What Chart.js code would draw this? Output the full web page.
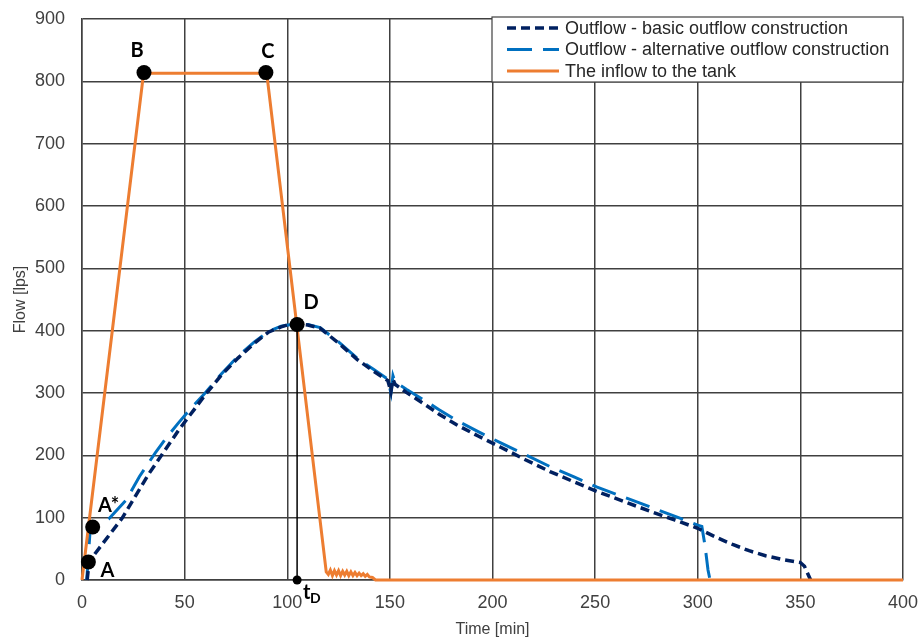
<!DOCTYPE html>
<html>
<head>
<meta charset="utf-8">
<script src="https://cdn.jsdelivr.net/npm/chart.js@4/dist/chart.umd.min.js"></script>
<style>
html, body { margin: 0; padding: 0; background: #fff; }
</style>
</head>
<body>
<canvas id="Grafica" width="920" height="639"></canvas>
<script>
// time [min] / flow [lps]
const basicTime = [2.5, 3.5, 10, 19.5, 32.5, 47, 55, 60, 68, 76, 84, 91, 97, 100, 105, 110, 116, 125, 134, 142, 149, 150.5, 151.5, 152.5, 158, 166, 174, 182.5, 193, 204, 216, 228, 240, 251, 264, 277, 289, 300, 303, 310, 317, 325, 333, 341, 350, 352, 355];
const basicFlow = [0, 30, 58, 99, 170, 240, 275, 297, 329, 356, 380, 398, 406, 409, 411, 409, 404, 380, 354, 335, 320, 302, 322, 314, 301, 284, 266, 249, 231, 213, 193, 174, 157, 142, 126, 110, 96, 83, 78, 67, 57, 47, 39, 33, 28, 22, 0];

const altTime = [2.3, 4, 8, 13, 21.7, 28, 35.7, 41, 47, 53, 60, 68, 76, 84, 91, 97, 104, 110, 116, 125, 134, 142, 149, 150.5, 151.5, 152.5, 158, 166, 174, 182.5, 193, 204, 216, 228, 240, 251, 264, 277, 289, 300, 302, 303.5, 305, 306];
const altFlow = [0, 82, 90, 98, 129, 166, 204, 228, 252, 275, 300, 331, 359, 382, 399, 407, 411, 410, 405, 382, 356, 338, 322, 300, 328, 318, 306, 290, 273, 256, 238, 220, 201, 182, 165, 149, 133, 117, 102, 88, 86, 56, 16, 0];

const inflowTime = [0, 30, 90, 119, 120, 121, 122, 123, 124, 125, 126, 127, 128, 129, 130, 131, 132, 133, 134, 135, 136, 137, 138, 139, 140, 141.5, 143, 400];
const inflowFlow = [0, 813, 813, 13, 9, 16, 7, 15, 8, 15, 7, 14, 8, 14, 7, 13, 7, 12, 7, 11, 7, 10, 6, 9, 5, 4, 0, 0];

const markerNames = ['A', 'A*', 'B', 'C', 'D'];
const markerTime = [3.1, 5.2, 30.2, 89.6, 104.8];
const markerFlow = [29, 85, 814, 814, 410];
const tD = 104.8;

const xTicks = [0, 50, 100, 150, 200, 250, 300, 350, 400];
const yTicks = [0, 100, 200, 300, 400, 500, 600, 700, 800, 900];

function pts(t, q) { return t.map((v, i) => ({x: v, y: q[i]})); }

const labelOffsets = [[19, 9], [16, -21], [-7, -22], [2, -21], [14, -22]];

const extras = {
    id: 'extras',
    afterDraw(chart) {
        const ctx = chart.ctx, sx = chart.scales.x, sy = chart.scales.y, ca = chart.chartArea;
        ctx.save();
        // point labels
        ctx.fillStyle = '#000';
        ctx.font = 'bold 20px Lato, "Liberation Sans"';
        ctx.textAlign = 'center';
        ctx.textBaseline = 'middle';
        markerNames.forEach((n, i) => {
            ctx.fillText(n, sx.getPixelForValue(markerTime[i]) + labelOffsets[i][0], sy.getPixelForValue(markerFlow[i]) + labelOffsets[i][1]);
        });
        const px = sx.getPixelForValue(tD), py = sy.getPixelForValue(0);
        ctx.textAlign = 'left';
        ctx.fillText('t', px + 6, py + 13);
        ctx.font = 'bold 14px Lato, "Liberation Sans"';
        ctx.fillText('D', px + 13, py + 18);

        // legend box
        const lx = ca.right - 411, ly = ca.top - 2, lw = 411, lh = 65;
        ctx.fillStyle = '#fff';
        ctx.fillRect(lx, ly, lw, lh);
        ctx.strokeStyle = '#404040';
        ctx.lineWidth = 1.2;
        ctx.strokeRect(lx, ly, lw, lh);
        ctx.font = '18px "Liberation Sans"';
        ctx.textBaseline = 'middle';
        const items = chart.data.datasets.filter(d => d.inLegend);
        items.sort((a, b) => a.legendPos - b.legendPos);
        items.forEach((d, i) => {
            const yy = ly + 11 + i * 21.5;
            ctx.beginPath();
            ctx.strokeStyle = d.borderColor;
            ctx.lineWidth = d.borderWidth;
            ctx.setLineDash(d.borderDash || []);
            ctx.moveTo(lx + 15, yy);
            ctx.lineTo(lx + 67, yy);
            ctx.stroke();
            ctx.setLineDash([]);
            ctx.fillStyle = '#262626';
            ctx.fillText(d.label, lx + 73, yy + 1);
        });
        ctx.restore();
    }
};

const lineOpts = {showLine: true, pointRadius: 0, fill: false, tension: 0, clip: 6};

new Chart(document.getElementById('Grafica').getContext('2d'), {
    type: 'scatter',
    data: {
        datasets: [
            {label: 'markers', data: pts(markerTime, markerFlow), pointRadius: 7.5, pointBackgroundColor: '#000', pointBorderWidth: 0, showLine: false, clip: false},
            {label: 'tD', data: [{x: tD, y: 0}], pointRadius: 4.5, pointBackgroundColor: '#000', pointBorderWidth: 0, showLine: false, clip: false},
            {...lineOpts, label: 'tDline', data: [{x: tD, y: markerFlow[4]}, {x: tD, y: 0}], borderColor: '#000', borderWidth: 1.5},
            {...lineOpts, label: 'The inflow to the tank', data: pts(inflowTime, inflowFlow), borderColor: '#ED7D31', borderWidth: 3, inLegend: true, legendPos: 3},
            {...lineOpts, label: 'Outflow - basic outflow construction', data: pts(basicTime, basicFlow), borderColor: '#002060', borderWidth: 3.5, borderDash: [9, 5], inLegend: true, legendPos: 1},
            {...lineOpts, label: 'Outflow - alternative outflow construction', data: pts(altTime, altFlow), borderColor: '#0070C0', borderWidth: 3, borderDash: [25, 11], inLegend: true, legendPos: 2}
        ]
    },
    options: {
        responsive: false,
        animation: false,
        layout: {padding: {left: 0, right: 17, top: 19, bottom: 0}},
        plugins: {legend: {display: false}, tooltip: {enabled: false}},
        scales: {
            x: {
                type: 'linear', min: 0, max: 400,
                afterFit: s => { s.height = 59; s.paddingLeft = 0; s.paddingRight = 0; },
                afterBuildTicks: s => { s.ticks = xTicks.map(v => ({value: v})); },
                grid: {color: '#404040', lineWidth: 1.5, drawTicks: false},
                border: {color: '#404040', width: 1.5},
                ticks: {color: '#404040', font: {family: 'Liberation Sans', size: 18}, padding: 12, maxRotation: 0},
                title: {display: true, text: 'Time [min]', color: '#404040', font: {family: 'Liberation Sans', size: 16}, padding: {top: 0, bottom: 0}}
            },
            y: {
                type: 'linear', min: 0, max: 900,
                afterFit: s => { s.width = 82; s.paddingTop = 0; s.paddingBottom = 0; },
                afterBuildTicks: s => { s.ticks = yTicks.map(v => ({value: v})); },
                grid: {color: '#404040', lineWidth: 1.5, drawTicks: false},
                border: {color: '#404040', width: 1.5},
                ticks: {color: '#404040', font: {family: 'Liberation Sans', size: 18}, padding: 17},
                title: {display: true, text: 'Flow [lps]', color: '#404040', font: {family: 'Liberation Sans', size: 16}, padding: {top: 11, bottom: 0}}
            }
        }
    },
    plugins: [extras]
});
</script>
</body>
</html>
